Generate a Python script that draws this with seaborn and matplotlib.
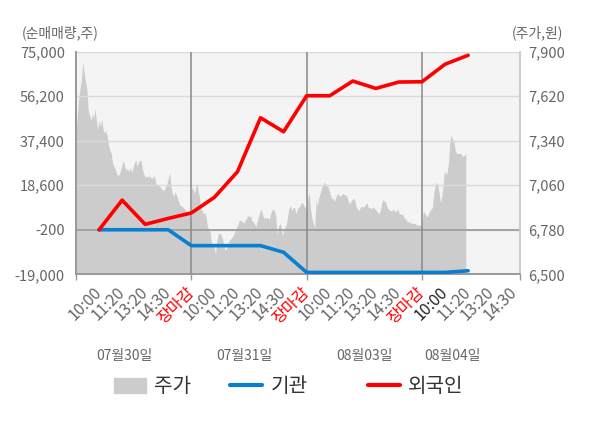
import numpy as np
import seaborn as sns
from matplotlib import pyplot as plt
from matplotlib.patches import Patch
from matplotlib.lines import Line2D

# net buying (shares), one point per time slot
flow_slots = np.arange(1, 18)
foreign = [-200, 12300, 2100, 4600, 6900, 13500, 24300, 47100, 41200,
           56400, 56400, 62600, 59500, 62200, 62300, 69700, 73500]
institution = [-200, -200, -200, -200, -6900, -6900, -6900, -6900, -9700,
               -18200, -18200, -18200, -18200, -18200, -18200, -18200, -17500]

# intraday price (won)
price_d1 = [7390, 7500, 7600, 7670, 7720, 7840, 7770, 7710, 7670, 7530, 7500, 7470, 7510, 7480, 7540,
            7470, 7410, 7470, 7430, 7480, 7410, 7390, 7400, 7370, 7310, 7280, 7260, 7200, 7180, 7160,
            7130, 7120, 7130, 7160, 7190, 7220, 7170, 7160, 7160, 7150, 7170, 7140, 7170, 7200, 7220,
            7180, 7200, 7220, 7210, 7160, 7130, 7110, 7120, 7110, 7120, 7110, 7100, 7120, 7110, 7070,
            7060, 7060, 7050, 7040, 7030, 7030, 7050, 7070, 7100, 7140, 7050, 7010, 6990, 7020, 7000,
            6970, 6950, 6930, 6930, 6920, 6910, 6900, 6880, 6890, 6860, 6820]
price_d2 = [7030, 7050, 7010, 7030, 7080, 7030, 6990, 6920, 6900, 6880, 6890, 6860, 6800, 6780, 6770,
            6700, 6690, 6670, 6630, 6710, 6750, 6760, 6750, 6730, 6690, 6650, 6660, 6680, 6710, 6720,
            6730, 6740, 6760, 6780, 6800, 6820, 6840, 6840, 6830, 6820, 6840, 6850, 6870, 6860, 6870,
            6840, 6830, 6820, 6800, 6830, 6860, 6890, 6910, 6880, 6850, 6860, 6850, 6860, 6840, 6880,
            6900, 6910, 6900, 6860, 6750, 6800, 6820, 6800, 6740, 6780, 6800, 6820, 6880, 6920, 6930,
            6900, 6920, 6920, 6880, 6910, 6920, 6930, 6950, 6950, 6930, 6920, 6880]
price_d3 = [6900, 6990, 7010, 6900, 6850, 6820, 6790, 6970, 6930, 6980, 7010, 7040, 7060, 7080, 7070,
            7060, 7050, 7020, 6990, 6970, 6980, 6960, 6990, 7010, 7000, 6990, 7000, 7010, 7000, 7000,
            6990, 6960, 6940, 6960, 6970, 6980, 6960, 6920, 6910, 6900, 6920, 6930, 6920, 6930, 6940,
            6950, 6920, 6920, 6910, 6920, 6920, 6910, 6900, 6890, 6880, 6900, 6950, 6970, 6960, 6950,
            6920, 6910, 6900, 6900, 6900, 6910, 6890, 6900, 6910, 6880, 6880, 6880, 6870, 6850, 6850,
            6830, 6830, 6830, 6820, 6820, 6820, 6820, 6810, 6810, 6810, 6810, 6810]
price_d4 = [6890, 6890, 6870, 6860, 6880, 6900, 6910, 6920, 7010, 7060, 7080, 7060, 7010, 6950, 6990,
            7060, 7150, 7130, 7140, 7200, 7330, 7380, 7350, 7340, 7280, 7260, 7260, 7260, 7260, 7250,
            7240, 7250, 7260]

tick_labels = ['10:00', '11:20', '13:20', '14:30', '장마감'] * 3 + ['10:00', '11:20', '13:20', '14:30']
date_labels = ['07월30일', '07월31일', '08월03일', '08월04일']
date_pos = [2.1, 7.3, 12.5, 16.3]

left_ticks = [-19000, -200, 18600, 37400, 56200, 75000]
right_ticks = [6500, 6780, 7060, 7340, 7620, 7900]

sns.set_theme(style='white')
plt.rcParams['font.family'] = ['Noto Sans CJK KR', 'DejaVu Sans']

GREY_TXT = '#666666'
BLUE = '#0a7fd0'
RED = '#ff0000'
AREA = '#cccccc'

fig = plt.figure(figsize=(6, 4.28), dpi=100)
ax = fig.add_axes([76 / 600, 1 - 274.3 / 428, 444 / 600, 222.6 / 428])
ax.set_facecolor('#f4f4f4')

# price area (right scale) sits on the bottom axes
price_x = np.concatenate([np.linspace(0, 5, len(price_d1)),
                          np.linspace(5, 10, len(price_d2)),
                          np.linspace(10, 15, len(price_d3)),
                          np.linspace(15.05, 16.9, len(price_d4))])
price = np.concatenate([price_d1, price_d2, price_d3, price_d4])
ax.fill_between(price_x, 6500, price, color=AREA, lw=0)
ax.set_ylim(6500, 7900)
ax.set_yticks(right_ticks)
ax.set_yticklabels([f'{v:,}' for v in right_ticks])

# net buying lines (left scale) on the twin
ax2 = ax.twinx()
ax2.set_facecolor('none')
ax.yaxis.tick_right()
ax2.yaxis.tick_left()
ax.tick_params(axis='y', length=0, pad=6, labelsize=10.5, labelcolor=GREY_TXT)
ax2.set_ylim(-19000, 75000)
ax2.set_yticks(left_ticks)
ax2.set_yticklabels([f'{v:,}' for v in left_ticks])
ax2.tick_params(axis='y', length=0, pad=8, labelsize=10.5, labelcolor=GREY_TXT)
ax2.yaxis.grid(True, color='#dadada', lw=1)
ax2.set_axisbelow(True)
ax2.axhline(-200, color='#999999', lw=1.2, zorder=1)
for b in [5, 10, 15]:
    ax2.axvline(b, color='#888888', lw=1.1, zorder=1)

sns.lineplot(x=flow_slots, y=institution, ax=ax2, color=BLUE, lw=2.6, zorder=3)
sns.lineplot(x=flow_slots, y=foreign, ax=ax2, color=RED, lw=2.6, zorder=4)
ax2.set_xlabel('')
ax2.set_ylabel('')

for a in (ax, ax2):
    a.set_xlim(0, 19.25)
    a.spines['top'].set_visible(False)
    a.spines['left'].set_color('#999999')
    a.spines['bottom'].set_color('#999999')
    a.spines['right'].set_color('#cccccc')

ax2.xaxis.set_visible(False)
ax.set_xticks(np.arange(1, 20))
ax.set_xticklabels(tick_labels)
ax.set_xticks([0, 5, 10, 15, 19.25], minor=True)
ax.xaxis.remove_overlapping_locs = False
ax.tick_params(axis='x', which='major', length=0, pad=11, labelsize=11.5, labelcolor=GREY_TXT)
ax.tick_params(axis='x', which='minor', length=4, width=1, color='#999999', bottom=True)
for i, lab in enumerate(ax.get_xticklabels()):
    lab.set_rotation(45)
    lab.set_ha('right')
    lab.set_va('center')
    lab.set_rotation_mode('anchor')
    if tick_labels[i] == '장마감':
        lab.set_color(RED)
    elif i == 15:
        lab.set_color('#222222')

for pos, d in zip(date_pos, date_labels):
    ax.text(pos, -0.365, d, transform=ax.get_xaxis_transform(), ha='center', va='center',
            fontsize=10, color=GREY_TXT)

fig.text(22 / 600, 1 - 33 / 428, '(순매매량,주)', ha='left', va='center', fontsize=10, color=GREY_TXT)
fig.text(563 / 600, 1 - 33 / 428, '(주가,원)', ha='right', va='center', fontsize=10, color=GREY_TXT)

items = [(Patch(color=AREA), '주가', 114), (Line2D([], [], color=BLUE, lw=3), '기관', 230),
         (Line2D([], [], color=RED, lw=3), '외국인', 368)]
for h, t, px in items:
    leg = fig.legend([h], [t], loc='center left', bbox_to_anchor=(px / 600, 1 - 387 / 428),
                     frameon=False, fontsize=14.5, handlelength=1.6, handleheight=0.8,
                     handletextpad=0.4, borderpad=0, borderaxespad=0)
    for txt in leg.get_texts():
        txt.set_color('#333333')

fig.savefig('out.png', dpi=100)
